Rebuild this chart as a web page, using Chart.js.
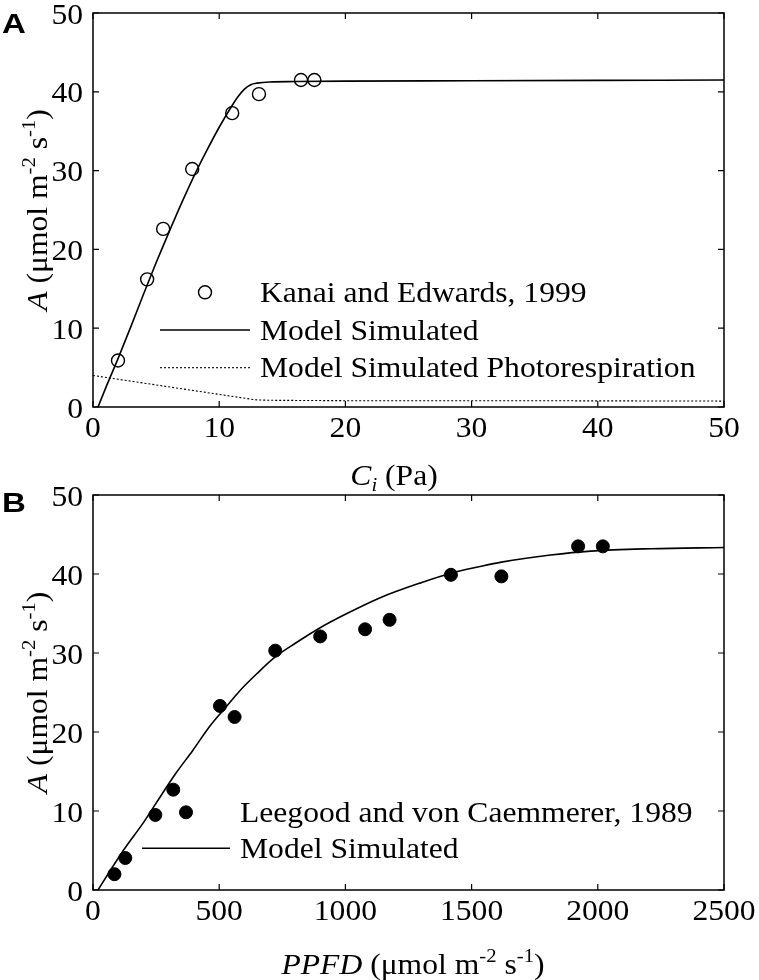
<!DOCTYPE html>
<html><head><meta charset="utf-8">
<script src="https://cdn.jsdelivr.net/npm/chart.js@4"></script>
<style>
html,body{margin:0;padding:0;background:#fff;}
#wrap{position:relative;width:759px;height:980px;overflow:hidden;background:#fff;}
canvas{position:absolute;left:0;}
</style></head>
<body>
<div id="wrap">
<canvas id="cA" width="800" height="500" style="top:0px"></canvas>
<canvas id="cB" width="800" height="520" style="top:460px"></canvas>
</div>
<script>
// ---------- Panel A data ----------
const ciObs = [1.98, 4.29, 5.56, 7.86, 11.03, 13.15, 16.48, 17.54];
const aObsA = [5.9, 16.2, 22.6, 30.2, 37.3, 39.7, 41.5, 41.5];
const ciModel = [0.4, 1, 2, 3, 4, 5, 6, 7, 8, 9, 10, 11, 11.5, 12, 12.5, 13, 14, 16, 20, 30, 40, 50];
const aModelA = [0, 2.4, 6.2, 10.2, 14.3, 18.3, 22.1, 25.8, 29.3, 32.5, 35.5, 38.2, 39.4, 40.35, 40.9, 41.1, 41.25, 41.3, 41.35, 41.4, 41.45, 41.5];
const ciPR = [0, 5, 10, 12.5, 13, 14, 20, 30, 40, 50];
const aPR = [4.0, 2.8, 1.6, 1.0, 0.9, 0.85, 0.8, 0.8, 0.78, 0.75];
const xTicksA = [0, 10, 20, 30, 40, 50];
const yTicks = [0, 10, 20, 30, 40, 50];
const legendA = ["Kanai and Edwards, 1999", "Model Simulated", "Model Simulated Photorespiration"];

// ---------- Panel B data ----------
const ppfdObs = [85, 128, 247, 318, 503, 561, 722, 900, 1078, 1175, 1418, 1618, 1922, 2020];
const aObsB = [2.0, 4.05, 9.5, 12.7, 23.3, 21.9, 30.3, 32.1, 33.0, 34.2, 39.9, 39.7, 43.5, 43.5];
const ppfdModel = [20, 78, 131, 197, 250, 329, 396, 462, 528, 581, 650, 722, 800, 900, 1000, 1138, 1300, 1418, 1534, 1618, 1813, 1972, 2210, 2500];
const aModelB = [0, 2.95, 5.5, 8.4, 11.0, 14.8, 17.7, 20.7, 23.2, 25.2, 27.4, 29.5, 31.2, 33.2, 34.9, 37.0, 38.9, 40.1, 40.95, 41.5, 42.4, 42.9, 43.2, 43.35];
const xTicksB = [0, 500, 1000, 1500, 2000, 2500];
const legendB = ["Leegood and von Caemmerer, 1989", "Model Simulated"];

const SERIF = '"Liberation Serif", "Times New Roman", serif';
const FS = 29;      // font size
const SX = 1.09;    // horizontal stretch of the original's lettering

function pts(xs, ys){ return xs.map((x,i)=>({x:x, y:ys[i]})); }

function stretchText(ctx, t, x, y, align){
  const w = ctx.measureText(t).width*SX;
  let x0 = x;
  if(align==='center') x0 = x - w/2; else if(align==='right') x0 = x - w;
  ctx.save(); ctx.translate(x0, y); ctx.scale(SX,1);
  ctx.textAlign='left'; ctx.textBaseline='alphabetic';
  ctx.fillText(t, 0, 0); ctx.restore();
  return w;
}
function segFont(s, size){
  const sz = (s.sup||s.sub) ? Math.round(size*0.64) : size;
  return (s.it?'italic ':'') + sz + 'px ' + SERIF;
}
function richWidth(ctx, segs, size){
  let w=0; segs.forEach(s=>{ctx.font=segFont(s,size); w+=ctx.measureText(s.t).width*SX;}); return w;
}
function drawRich(ctx, segs, x, y, size){
  let cx=x;
  segs.forEach(s=>{
    ctx.font=segFont(s,size);
    const dy = s.sup ? -size*0.42 : (s.sub ? size*0.22 : 0);
    cx += stretchText(ctx, s.t, cx, y+dy, 'left');
  });
}
const yTitleSegs = [{t:'A',it:true},{t:' (μmol m'},{t:'-2',sup:true},{t:' s'},{t:'-1',sup:true},{t:')'}];
const xTitleA = [{t:'C',it:true},{t:'i',it:true,sub:true},{t:' (Pa)'}];
const xTitleB = [{t:'PPFD',it:true},{t:' (μmol m'},{t:'-2',sup:true},{t:' s'},{t:'-1',sup:true},{t:')'}];

const decorPlugin = {
  id:'decor',
  afterDraw(chart, args, o){
    const ctx=chart.ctx, a=chart.chartArea, xs=chart.scales.x, ys=chart.scales.y;
    ctx.save();
    ctx.fillStyle='#000'; ctx.strokeStyle='#000';
    // frame
    ctx.lineWidth=1.5;
    ctx.strokeRect(a.left, a.top, a.right-a.left, a.bottom-a.top);
    // inward ticks on all sides
    ctx.lineWidth=1.2;
    const L=6;
    ctx.beginPath();
    xs.ticks.forEach(t=>{const p=xs.getPixelForValue(t.value);
      ctx.moveTo(p,a.bottom); ctx.lineTo(p,a.bottom-L); ctx.moveTo(p,a.top); ctx.lineTo(p,a.top+L);});
    ys.ticks.forEach(t=>{const p=ys.getPixelForValue(t.value);
      ctx.moveTo(a.left,p); ctx.lineTo(a.left+L,p); ctx.moveTo(a.right,p); ctx.lineTo(a.right-L,p);});
    ctx.stroke();
    // tick labels
    ctx.font=FS+'px '+SERIF;
    xs.ticks.forEach(t=>{ stretchText(ctx, String(t.value), xs.getPixelForValue(t.value), a.bottom + o.xLabelGap, 'center'); });
    ys.ticks.forEach(t=>{ stretchText(ctx, String(t.value), a.left - 10, ys.getPixelForValue(t.value) + 10.5, 'right'); });
    // legend
    const lg=o.legend;
    lg.items.forEach((it,i)=>{
      const cy = lg.y + i*lg.dy;
      const ds = chart.data.datasets[it.ds];
      if(it.kind==='marker'){
        ctx.beginPath(); ctx.arc((lg.x0+lg.x1)/2, cy, ds.pointRadius, 0, Math.PI*2);
        if(ds.pointBackgroundColor!=='rgba(0,0,0,0)'){ctx.fillStyle=ds.pointBackgroundColor; ctx.fill();}
        ctx.lineWidth=ds.pointBorderWidth; ctx.strokeStyle=ds.pointBorderColor; ctx.stroke();
      } else {
        ctx.beginPath(); ctx.lineWidth=ds.borderWidth; ctx.strokeStyle=ds.borderColor;
        ctx.setLineDash(ds.borderDash||[]);
        ctx.moveTo(lg.x0, cy); ctx.lineTo(lg.x1, cy); ctx.stroke(); ctx.setLineDash([]);
      }
      ctx.fillStyle='#000'; ctx.font=FS+'px '+SERIF;
      stretchText(ctx, it.text, lg.tx, cy + 9.5, 'left');
    });
    // y title (rotated)
    const yc=(a.top+a.bottom)/2;
    ctx.save(); ctx.translate(o.yTitleX, yc); ctx.rotate(-Math.PI/2);
    const wy=richWidth(ctx,yTitleSegs,FS); drawRich(ctx,yTitleSegs,-wy/2,0,FS); ctx.restore();
    // x title
    const wx=richWidth(ctx,o.xTitle,FS); drawRich(ctx,o.xTitle,o.xTitleCx-wx/2,o.xTitleY,FS);
    // panel letter
    ctx.font='bold 28px "Liberation Sans", Arial, sans-serif';
    ctx.save(); ctx.translate(o.letterX, o.letterY); ctx.scale(1.18,1); ctx.fillText(o.letter,0,0); ctx.restore();
    ctx.restore();
  }
};

function makeScales(xmin,xmax,xticks,xh,yw){
  return {
    x:{type:'linear',min:xmin,max:xmax,
      afterBuildTicks(s){s.ticks=xticks.map(v=>({value:v}));},
      ticks:{display:false},
      grid:{display:false,drawTicks:false},border:{display:false},
      afterFit(s){s.height=xh;}},
    y:{type:'linear',min:0,max:50,
      afterBuildTicks(s){s.ticks=yTicks.map(v=>({value:v}));},
      ticks:{display:false},
      grid:{display:false,drawTicks:false},border:{display:false},
      afterFit(s){s.width=yw;}}
  };
}

// Panel A: plot area 93..724 x 13..407 (canvas taller so its x title fits; transparent overlap with B)
new Chart(document.getElementById('cA'),{
  type:'scatter',
  data:{datasets:[
    {label:legendA[0],data:pts(ciObs,aObsA),pointRadius:6.5,pointBorderWidth:1.4,pointBorderColor:'#000',pointBackgroundColor:'rgba(0,0,0,0)',showLine:false,order:1},
    {label:legendA[1],data:pts(ciModel,aModelA),showLine:true,pointRadius:0,borderColor:'#000',borderWidth:1.6,cubicInterpolationMode:'monotone',order:2},
    {label:legendA[2],data:pts(ciPR,aPR),showLine:true,pointRadius:0,borderColor:'#000',borderWidth:1.1,borderDash:[2,2],order:3}
  ]},
  options:{responsive:false,animation:false,devicePixelRatio:1,
    layout:{padding:{top:13,right:76,left:0,bottom:0}},
    plugins:{legend:{display:false},tooltip:{enabled:false},
      decor:{letter:'A',letterX:2,letterY:33,yTitleX:47,xTitle:xTitleA,xTitleCx:394,xTitleY:485,xLabelGap:30,
        legend:{x0:160,x1:250,tx:260,y:292.3,dy:37.7,items:[
          {kind:'marker',ds:0,text:legendA[0]},{kind:'line',ds:1,text:legendA[1]},{kind:'line',ds:2,text:legendA[2]}]}}},
    scales:makeScales(0,50,xTicksA,93,93)
  },
  plugins:[decorPlugin]
});

// Panel B: plot area 93..724 x 495..890 (canvas offset 460)
new Chart(document.getElementById('cB'),{
  type:'scatter',
  data:{datasets:[
    {label:legendB[0],data:pts(ppfdObs,aObsB),pointRadius:6.5,pointBorderWidth:1,pointBorderColor:'#000',pointBackgroundColor:'#000',showLine:false,order:1},
    {label:legendB[1],data:pts(ppfdModel,aModelB),showLine:true,pointRadius:0,borderColor:'#000',borderWidth:1.6,cubicInterpolationMode:'monotone',order:2}
  ]},
  options:{responsive:false,animation:false,devicePixelRatio:1,
    layout:{padding:{top:35,right:76,left:0,bottom:0}},
    plugins:{legend:{display:false},tooltip:{enabled:false},
      decor:{letter:'B',letterX:2,letterY:52,yTitleX:47,xTitle:xTitleB,xTitleCx:413,xTitleY:514,xLabelGap:30,
        legend:{x0:142,x1:230,tx:240,y:352.3,dy:36,items:[
          {kind:'marker',ds:0,text:legendB[0]},{kind:'line',ds:1,text:legendB[1]}]}}},
    scales:makeScales(0,2500,xTicksB,90,93)
  },
  plugins:[decorPlugin]
});
</script>
</body></html>
